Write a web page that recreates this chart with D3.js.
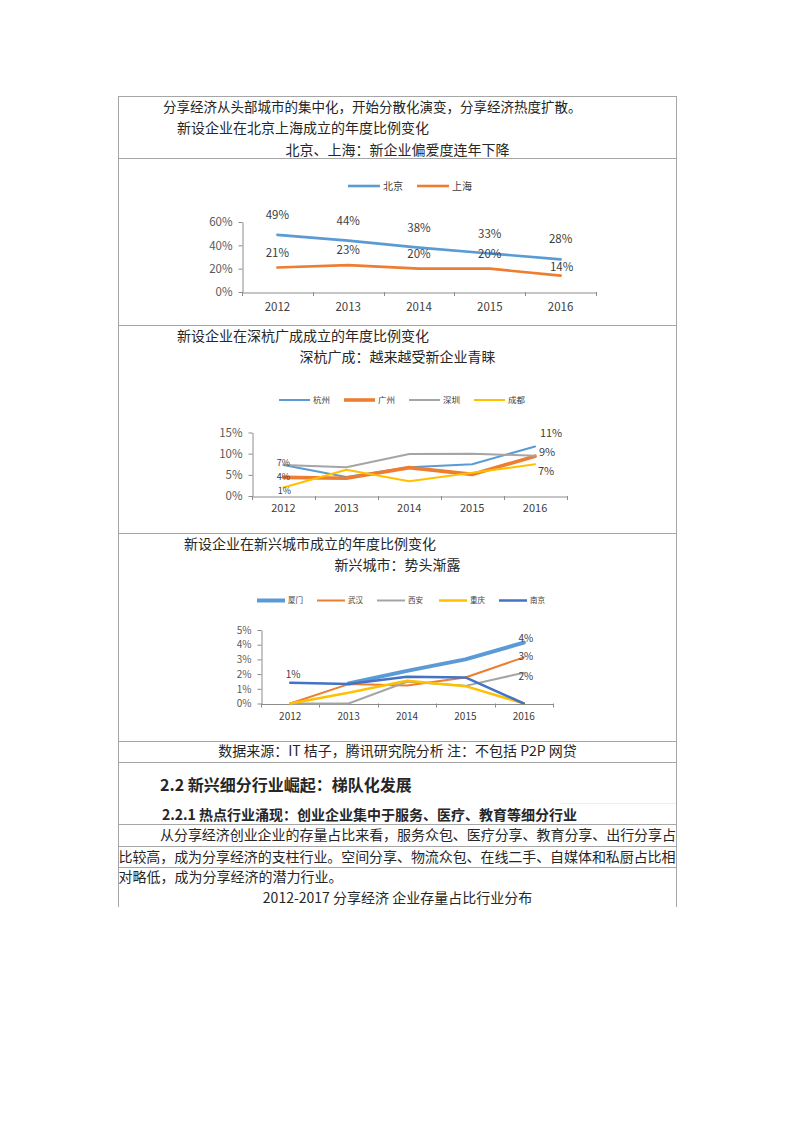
<!DOCTYPE html>
<html><head><meta charset="utf-8">
<script src="https://cdn.jsdelivr.net/npm/d3@7/dist/d3.min.js"></script>
<style>html,body{margin:0;padding:0;background:#fff}svg{display:block}</style>
</head><body>
<svg id="page" width="794" height="1123"></svg>
<script>
// ---------- DATA ----------
const years = ["2012", "2013", "2014", "2015", "2016"];

// Chart 1: 北京 / 上海 (%)
const c1Names = ["北京", "上海"];
const c1Beijing = [49, 44, 38, 33, 28];
const c1Shanghai = [21, 23, 20, 20, 14];
const c1Ticks = [0, 20, 40, 60];
const c1TickLabels = ["0%", "20%", "40%", "60%"];

// Chart 2: 杭州 / 广州 / 深圳 / 成都 (%)
const c2Names = ["杭州", "广州", "深圳", "成都"];
const c2Hangzhou = [7.3, 4.5, 6.8, 7.5, 11.7];
const c2Guangzhou = [4.4, 4.2, 6.7, 5.1, 9.4];
const c2Shenzhen = [7.3, 6.8, 9.9, 10.0, 9.5];
const c2Chengdu = [2.0, 6.2, 3.5, 5.5, 7.5];
const c2Ticks = [0, 5, 10, 15];
const c2TickLabels = ["0%", "5%", "10%", "15%"];
const c2LabelTexts = ["7%", "4%", "1%", "11%", "9%", "7%"];

// Chart 3: 厦门 / 武汉 / 西安 / 重庆 / 南京 (%)
const c3Names = ["厦门", "武汉", "西安", "重庆", "南京"];
const c3Xiamen = [null, 1.36, 2.22, 3.0, 4.14];
const c3Wuhan = [0, 1.32, 1.23, 1.77, 3.14];
const c3Xian = [0, 0, 1.48, 1.2, 2.09];
const c3Chongqing = [0, 0.73, 1.55, 1.18, 0];
const c3Nanjing = [1.41, 1.32, 1.82, 1.77, 0];
const c3Ticks = [0, 1, 2, 3, 4, 5];
const c3TickLabels = ["0%", "1%", "2%", "3%", "4%", "5%"];
const c3LabelTexts = ["1%", "4%", "3%", "2%"];

// ---------- PAGE ----------
const FONT = "'Noto Sans CJK SC', 'Noto Sans', sans-serif";
const svg = d3.select("#page");
svg.append("rect").attr("width", 794).attr("height", 1123).attr("fill", "#fff");

const TL = 118, TR = 676, CX = 397.5;
const hLines = [96, 158, 325, 533, 741, 762, 824, 846, 867];
const borders = svg.append("g").attr("stroke", "#a6a6a6").attr("stroke-width", 1);
hLines.forEach(yv => borders.append("line").attr("x1", TL).attr("x2", TR).attr("y1", yv + 0.5).attr("y2", yv + 0.5));
borders.append("line").attr("x1", TL + 0.5).attr("x2", TL + 0.5).attr("y1", 96).attr("y2", 907);
borders.append("line").attr("x1", TR + 0.5).attr("x2", TR + 0.5).attr("y1", 96).attr("y2", 907);
svg.append("line").attr("x1", 560).attr("x2", TR).attr("y1", 803.5).attr("y2", 803.5).attr("stroke", "#ececec");

const docText = [
  {t: "分享经济从头部城市的集中化，开始分散化演变，分享经济热度扩散。", x: 163, y: 112, size: 13.5},
  {t: "新设企业在北京上海成立的年度比例变化", x: 177, y: 133, size: 14},
  {t: "北京、上海：新企业偏爱度连年下降", x: CX, y: 154.5, size: 14, anchor: "middle"},
  {t: "新设企业在深杭广成成立的年度比例变化", x: 177, y: 341, size: 14},
  {t: "深杭广成：越来越受新企业青睐", x: CX, y: 361.5, size: 14, anchor: "middle"},
  {t: "新设企业在新兴城市成立的年度比例变化", x: 184, y: 549, size: 14},
  {t: "新兴城市：势头渐露", x: CX, y: 569.5, size: 14, anchor: "middle"},
  {t: "数据来源：IT 桔子，腾讯研究院分析 注：不包括 P2P 网贷", x: CX, y: 756, size: 14, anchor: "middle"},
  {t: "2.2 新兴细分行业崛起：梯队化发展", x: 160, y: 791, size: 16, weight: "bold"},
  {t: "2.2.1 热点行业涌现：创业企业集中于服务、医疗、教育等细分行业", x: 162, y: 819.5, size: 14, weight: "bold"},
  {t: "从分享经济创业企业的存量占比来看，服务众包、医疗分享、教育分享、出行分享占", x: 160, y: 840, size: 14, fit: 516},
  {t: "比较高，成为分享经济的支柱行业。空间分享、物流众包、在线二手、自媒体和私厨占比相", x: 118.5, y: 861.5, size: 14, fit: 557},
  {t: "对略低，成为分享经济的潜力行业。", x: 118.5, y: 882, size: 14},
  {t: "2012-2017 分享经济 企业存量占比行业分布", x: CX, y: 903, size: 14, anchor: "middle"}
];
docText.forEach(d => {
  const el = svg.append("text").attr("x", d.x).attr("y", d.y)
    .attr("font-family", FONT).attr("font-size", d.size)
    .attr("font-weight", d.weight || "normal")
    .attr("fill", "#262626")
    .attr("text-anchor", d.anchor || "start").text(d.t);
  if (d.fit) el.attr("textLength", d.fit).attr("lengthAdjust", "spacing");
});

// ---------- CHART ----------
function drawChart(cfg) {
  const g = svg.append("g");
  const x = d3.scaleBand().domain(years).range([cfg.x0, cfg.x1]);
  const bw = x.bandwidth();
  const y = d3.scaleLinear().domain([0, cfg.yMax]).range([cfg.yBase, cfg.yTop]);
  const px = i => x(years[i]) + bw / 2;

  const axisColor = "#8c8c8c";
  // y axis
  const ya = g.append("g").attr("transform", `translate(${cfg.x0 + 0.5},0)`)
    .call(d3.axisLeft(y).tickValues(cfg.ticks).tickFormat((d, i) => cfg.tickLabels[i])
      .tickSizeInner(4).tickSizeOuter(0).tickPadding(6));
  ya.selectAll("path, line").attr("stroke", axisColor);
  ya.selectAll("text").attr("font-family", FONT).attr("font-size", cfg.tickFont).attr("fill", "#595959");
  // x axis
  const xa = g.append("g").attr("transform", `translate(0,${cfg.yBase + 0.5})`)
    .call(d3.axisBottom(x).tickSize(0).tickPadding(cfg.xPad));
  xa.selectAll("path").attr("stroke", axisColor);
  xa.selectAll("text").attr("font-family", FONT).attr("font-size", cfg.yearFont).attr("fill", "#404040");
  const bounds = years.map(c => x(c)).concat([x(years[years.length - 1]) + bw]);
  g.selectAll(".btick").data(bounds).enter().append("line")
    .attr("x1", d => Math.round(d) + 0.5).attr("x2", d => Math.round(d) + 0.5)
    .attr("y1", cfg.yBase).attr("y2", cfg.yBase + 4).attr("stroke", axisColor);

  // series
  const line = d3.line().defined(v => v != null).x((v, i) => px(i)).y(v => y(v));
  cfg.series.forEach(s => {
    g.append("path").datum(s.values).attr("d", line)
      .attr("fill", "none").attr("stroke", s.color).attr("stroke-width", s.width)
      .attr("stroke-linejoin", "round").attr("stroke-linecap", "round");
  });

  // labels
  cfg.labels.forEach(l => {
    const v = cfg.series[l.s].values[l.i];
    g.append("text").attr("x", px(l.i) + l.dx).attr("y", y(v) + l.dy).attr("dy", "0.35em")
      .attr("text-anchor", "middle").attr("font-family", FONT).attr("font-size", l.size || cfg.labelFont)
      .attr("fill", "#404040").text(l.t);
  });

  // legend
  cfg.series.forEach((s, i) => {
    const lx = cfg.legendX[i];
    g.append("line").attr("x1", lx).attr("x2", lx + cfg.legendLen)
      .attr("y1", cfg.legendY).attr("y2", cfg.legendY)
      .attr("stroke", s.color).attr("stroke-width", s.width);
    g.append("text").attr("x", lx + cfg.legendLen + 3).attr("y", cfg.legendY).attr("dy", "0.36em")
      .attr("font-family", FONT).attr("font-size", cfg.legendFont).attr("fill", "#404040").text(s.name);
  });
}

const BLUE = "#5B9BD5", ORANGE = "#ED7D31", GRAY = "#A5A5A5", GOLD = "#FFC000", DBLUE = "#4472C4";

// Chart 1
const c1Series = [
  {name: c1Names[0], values: c1Beijing, color: BLUE, width: 2.6},
  {name: c1Names[1], values: c1Shanghai, color: ORANGE, width: 2.6}
];
drawChart({
  x0: 242, x1: 596, yBase: 292, yTop: 222, yMax: 60,
  ticks: c1Ticks, tickLabels: c1TickLabels, tickFont: 11.5, yearFont: 11.5, labelFont: 11.5, xPad: 10,
  series: c1Series,
  labels: [].concat(
    c1Beijing.map((v, i) => ({s: 0, i, t: v + "%", dx: 0, dy: -20})),
    c1Shanghai.map((v, i) => ({s: 1, i, t: v + "%", dx: i === 4 ? 1 : 0, dy: i === 4 ? -9 : -15}))
  ),
  legendX: [348, 417], legendLen: 32, legendY: 186, legendFont: 10
});

// Chart 2
const c2Series = [
  {name: c2Names[0], values: c2Hangzhou, color: BLUE, width: 2},
  {name: c2Names[1], values: c2Guangzhou, color: ORANGE, width: 3.6},
  {name: c2Names[2], values: c2Shenzhen, color: GRAY, width: 2},
  {name: c2Names[3], values: c2Chengdu, color: GOLD, width: 2}
];
drawChart({
  x0: 252, x1: 566.5, yBase: 496, yTop: 432.5, yMax: 15,
  ticks: c2Ticks, tickLabels: c2TickLabels, tickFont: 11.5, yearFont: 11, labelFont: 11, xPad: 7.5,
  series: c2Series,
  labels: [
    {s: 0, i: 0, t: c2LabelTexts[0], dx: 0, dy: -2, size: 9},
    {s: 1, i: 0, t: c2LabelTexts[1], dx: 0, dy: -0.5, size: 9},
    {s: 3, i: 0, t: c2LabelTexts[2], dx: 1, dy: 3, size: 9},
    {s: 0, i: 4, t: c2LabelTexts[3], dx: 16, dy: -13},
    {s: 1, i: 4, t: c2LabelTexts[4], dx: 12, dy: -4},
    {s: 3, i: 4, t: c2LabelTexts[5], dx: 11, dy: 7}
  ],
  legendX: [279, 344, 409, 474], legendLen: 31, legendY: 400, legendFont: 8.5
});

// Chart 3
const c3Series = [
  {name: c3Names[0], values: c3Xiamen, color: BLUE, width: 4},
  {name: c3Names[1], values: c3Wuhan, color: ORANGE, width: 2},
  {name: c3Names[2], values: c3Xian, color: GRAY, width: 2},
  {name: c3Names[3], values: c3Chongqing, color: GOLD, width: 2.5},
  {name: c3Names[4], values: c3Nanjing, color: DBLUE, width: 2.5}
];
drawChart({
  x0: 261, x1: 553, yBase: 703.5, yTop: 630, yMax: 5,
  ticks: c3Ticks, tickLabels: c3TickLabels, tickFont: 10, yearFont: 10, labelFont: 10, xPad: 9,
  series: c3Series,
  labels: [
    {s: 4, i: 0, t: c3LabelTexts[0], dx: 3, dy: -8},
    {s: 0, i: 4, t: c3LabelTexts[1], dx: 2, dy: -4},
    {s: 1, i: 4, t: c3LabelTexts[2], dx: 2, dy: -1},
    {s: 2, i: 4, t: c3LabelTexts[3], dx: 2, dy: 4}
  ],
  legendX: [257, 317, 377, 439, 499], legendLen: 28, legendY: 600.5, legendFont: 7.5
});
</script>
</body></html>
